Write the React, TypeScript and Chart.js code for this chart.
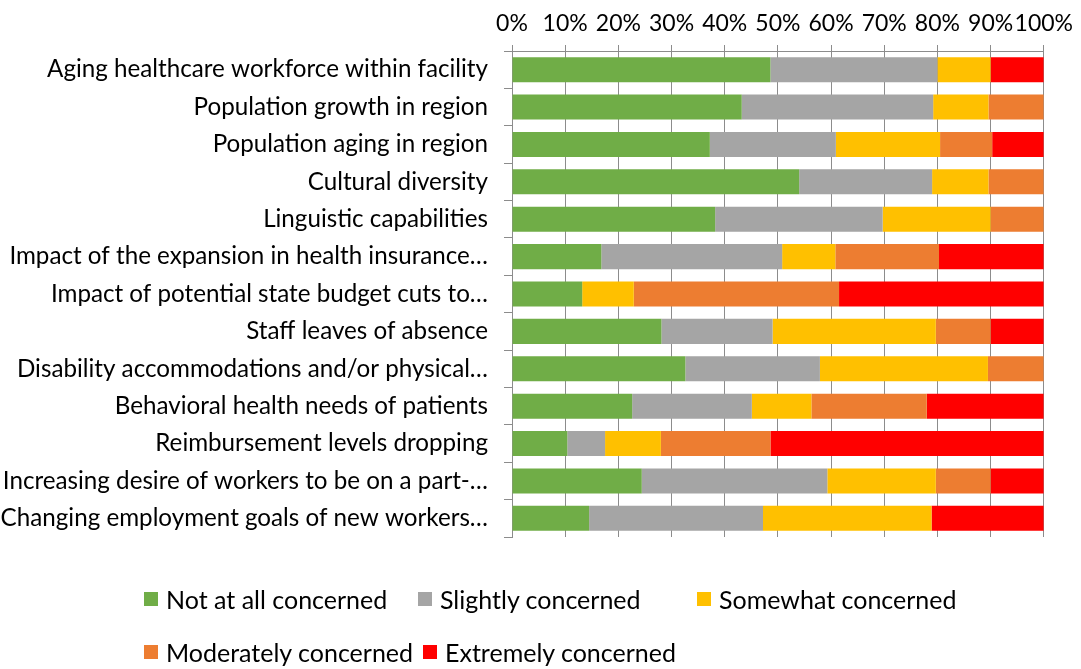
import React, { useEffect, useRef } from "react";
import { Chart, registerables } from "chart.js";

Chart.register(...registerables);

const categories = [
  "Aging healthcare workforce within facility",
  "Population growth in region",
  "Population aging in region",
  "Cultural diversity",
  "Linguistic capabilities",
  "Impact of the expansion in health insurance…",
  "Impact of potential state budget cuts to…",
  "Staff leaves of absence",
  "Disability accommodations and/or physical…",
  "Behavioral health needs of patients",
  "Reimbursement levels dropping",
  "Increasing desire of workers to be on a part-…",
  "Changing employment goals of new workers…",
];

const notAtAll = [48.6, 43.2, 37.2, 54.0, 38.2, 16.8, 13.2, 28.1, 32.6, 22.6, 10.4, 24.4, 14.5];
const slightly = [31.4, 36.0, 23.7, 25.0, 31.5, 34.0, 0, 20.9, 25.3, 22.5, 7.1, 34.9, 32.7];
const somewhat = [10.0, 10.4, 19.6, 10.6, 20.3, 10.0, 9.7, 30.7, 31.6, 11.2, 10.5, 20.4, 31.7];
const moderately = [0, 10.4, 9.8, 10.4, 10.0, 19.5, 38.6, 10.3, 10.5, 21.7, 20.6, 10.3, 0];
const extremely = [10.0, 0, 9.7, 0, 0, 19.7, 38.5, 10.0, 0, 22.0, 51.4, 10.0, 21.1];

const xTicks = [0, 10, 20, 30, 40, 50, 60, 70, 80, 90, 100];

const seriesNames = [
  "Not at all concerned",
  "Slightly concerned",
  "Somewhat concerned",
  "Moderately concerned",
  "Extremely concerned",
];
const seriesColors = ["#70AD47", "#A5A5A5", "#FFC000", "#ED7D31", "#FF0000"];
const seriesData = [notAtAll, slightly, somewhat, moderately, extremely];

const FONT = "Lato, 'Open Sans', sans-serif";

export default function App() {
  const ref = useRef<HTMLCanvasElement | null>(null);

  useEffect(() => {
    document.body.style.margin = "0";
    const canvas = ref.current;
    if (!canvas) return;
    const chart = new Chart(canvas, {
      type: "bar",
      data: {
        labels: categories,
        datasets: seriesNames.map((name, i) => ({
          label: name,
          data: seriesData[i],
          backgroundColor: seriesColors[i],
          borderWidth: 0,
          barPercentage: 0.67,
          categoryPercentage: 1,
        })),
      },
      options: {
        indexAxis: "y",
        responsive: false,
        animation: false,
        maintainAspectRatio: false,
        layout: { padding: { left: 0, right: 36, top: 0, bottom: 132 } },
        plugins: {
          legend: { display: false },
          tooltip: { enabled: false },
        },
        scales: {
          x: {
            type: "linear",
            position: "top",
            stacked: true,
            min: 0,
            max: 100,
            afterBuildTicks: (s: any) => {
              s.ticks = xTicks.map((v) => ({ value: v }));
            },
            afterFit: (s: any) => {
              s.height = 51;
            },
            ticks: {
              callback: (v: any) => v + "%",
              color: "#000",
              font: { family: FONT, size: 23 },
              padding: 8,
              maxRotation: 0,
              autoSkip: false,
            },
            grid: {
              color: "#8c8c8c",
              lineWidth: 1,
              drawTicks: true,
              tickLength: 6,
            },
            border: { color: "#8c8c8c", width: 1 },
          },
          y: {
            stacked: true,
            afterFit: (s: any) => {
              s.width = 512;
            },
            ticks: {
              color: "#000",
              font: { family: FONT, size: 24.2 },
              padding: 16,
              autoSkip: false,
            },
            grid: {
              offset: true,
              drawOnChartArea: false,
              drawTicks: true,
              tickLength: 8,
              color: "#8c8c8c",
            },
            border: { color: "#8c8c8c", width: 1 },
          },
        },
      },
    });
    return () => chart.destroy();
  }, []);

  const legendPos = [
    { left: 144, top: 599 },
    { left: 418, top: 599 },
    { left: 697, top: 599 },
    { left: 144, top: 652 },
    { left: 423, top: 652 },
  ];

  return (
    <div style={{ position: "relative", width: 1081, height: 669, fontFamily: FONT }}>
      <canvas ref={ref} width={1081} height={669} style={{ display: "block" }} />
      {seriesNames.map((name, i) => (
        <div
          key={name}
          style={{
            position: "absolute",
            left: legendPos[i].left,
            top: legendPos[i].top - 15,
            height: 30,
            display: "flex",
            alignItems: "center",
            fontSize: 25,
            color: "#000",
            whiteSpace: "nowrap",
          }}
        >
          <span
            style={{
              display: "inline-block",
              width: 14,
              height: 14,
              background: seriesColors[i],
              marginRight: 8,
            }}
          />
          <span>{name}</span>
        </div>
      ))}
    </div>
  );
}
